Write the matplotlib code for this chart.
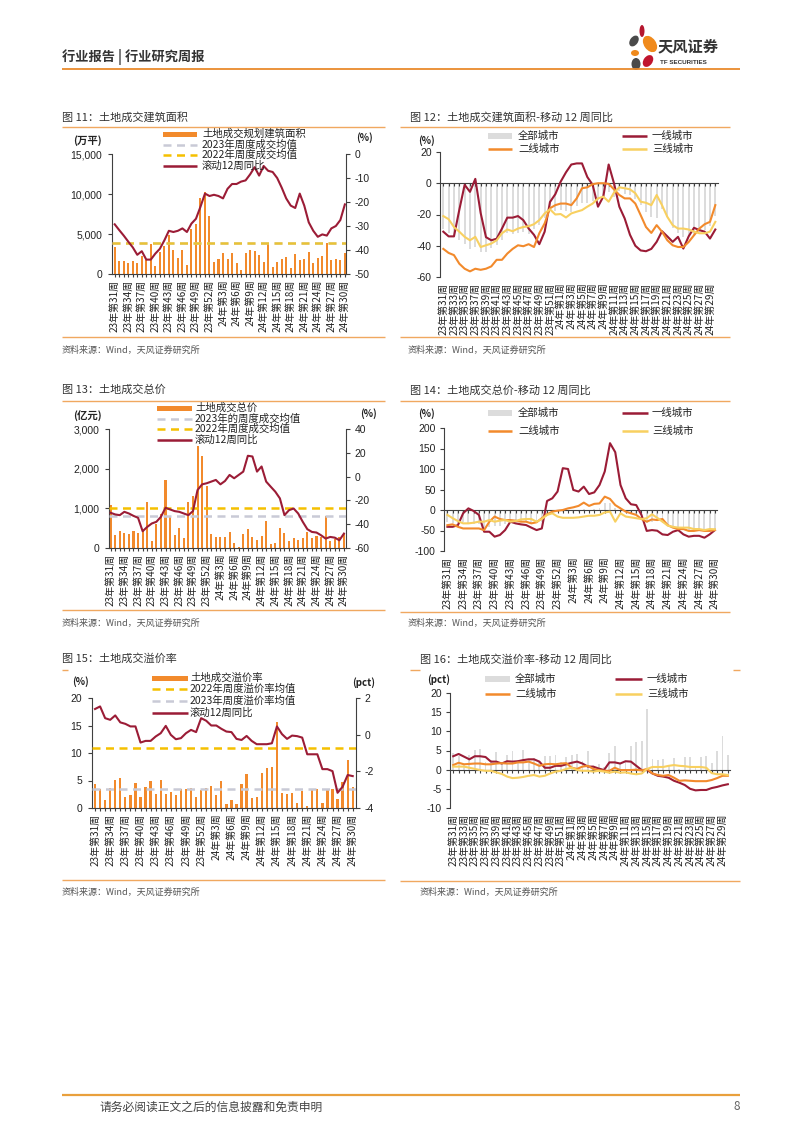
import matplotlib
matplotlib.use('Agg')
import matplotlib.pyplot as plt
from matplotlib.patches import Rectangle, Ellipse
import numpy as np

plt.rcParams['font.family'] = ['Liberation Sans', 'Noto Sans CJK SC', 'DejaVu Sans']
plt.rcParams['axes.unicode_minus'] = False
CJK = ['Noto Sans CJK SC', 'DejaVu Sans']

# ---------------- data ----------------
weeks_2023 = list(range(31, 53))
weeks_2024 = list(range(1, 31))
week_labels = [f"23年第{w}周" for w in weeks_2023] + [f"24年第{w}周" for w in weeks_2024]

# Fig 11: land transaction planned floor area (10k sqm) and rolling 12w yoy (%)
area_bar = [3400, 1650, 1650, 1400, 1650, 1400, 2300, 1800, 3800, 1000,
            2800, 3500, 4900, 3000, 2000, 3000, 1150, 5600, 6300, 9500,
            10300, 7200, 1500, 1900, 2600, 1900, 2600, 1400, 550, 2600,
            3000, 2900, 2400, 1500, 3800, 900, 1500, 1900, 2100, 800,
            2500, 1800, 1900, 2800, 1400, 2000, 2300, 3900, 1800, 1900,
            1800, 2600]
area_avg_2023 = 3850
area_avg_2022 = 3900
area_yoy = [-29.3, -31.7, -34, -36.5, -38.9, -42, -40.5, -44, -44, -41.5,
            -39.5, -36, -32, -32.5, -32, -31, -32.5, -29, -27, -22,
            -16.5, -17.5, -17, -17.5, -18.5, -14.5, -12.5, -12.5, -11.5, -11,
            -8.5, -5.5, -9, -5, -7, -7.5, -10, -14, -18.5, -21.5,
            -22.5, -16.5, -21.5, -28.5, -32, -34.5, -33.5, -34, -31, -30,
            -27.5, -21]

# Fig 12: floor area rolling 12w yoy by city tier (%)
area_all = area_yoy
area_t1 = [-31, -34, -34, -17, -1, -5.5, 2.8, -19, -34.5, -36.5,
           -35.5, -29, -22, -22, -21, -23.6, -29, -33, -39, -31,
           -12, -7, 1, 7, 12, 12.7, 12.7, 4, -1, -15,
           -8.5, 12, 0, -15, -22.5, -33, -40, -43, -43.5, -42,
           -37.5, -30.7, -34, -37.5, -34.3, -41.8, -34, -28.5, -30, -31,
           -35.4, -29.6]
area_t2 = [-42, -44.6, -46, -51.5, -54.7, -56.4, -54.7, -55.4, -54.7, -53.2,
           -49, -49, -45, -42, -39.7, -40.3, -39, -40.8, -32, -25.7,
           -16, -14, -13, -13, -14, -9.7, -3.2, -2.6, -0.6, 0,
           0, -0.4, -3.9, -7.5, -9.7, -9.7, -13, -20.4, -28, -31.8,
           -26.8, -31, -36.5, -39.7, -40.8, -40.8, -37.6, -33.3, -29, -26.2,
           -24.7, -14]
area_t3 = [-21, -23, -28, -31, -34.3, -36.5, -34.3, -40.8, -39.7, -38.6,
           -36.5, -32, -29.6, -30.7, -29, -28, -27.5, -26.2, -23.6, -19.3,
           -16.7, -20, -19.7, -21.9, -19.3, -18.2, -17.2, -15, -13, -9.7,
           -8.6, -11.8, -6, -2.6, -3.2, -3.9, -6.4, -11.8, -12.5, -14,
           -7.5, -14, -21.5, -26.8, -29, -29, -29.6, -31, -32, -32,
           -31, -24.7]

# Fig 13: total land transaction value (100m yuan) and rolling 12w yoy (%)
price_bar = [1080, 340, 420, 390, 360, 420, 390, 450, 1150, 170,
             600, 850, 1720, 780, 330, 500, 250, 1150, 1320, 2560,
             2330, 1570, 360, 270, 270, 280, 400, 120, 30, 360,
             480, 280, 200, 300, 680, 90, 120, 500, 380, 170,
             250, 200, 250, 400, 250, 300, 280, 800, 170, 220,
             280, 370]
price_avg_2023 = 810
price_avg_2022 = 1010
price_yoy = [-30.4, -31.8, -32.4, -29.6, -31, -33, -34.6, -45.9, -42.3, -39.4,
             -38, -33.8, -26.2, -27.6, -29, -29.6, -31, -32.4, -29, -11.3,
             -6.5, -5.6, -4.2, -2.8, -6.5, -3.7, 1.4, -1.4, 1.4, 4.2,
             17.5, 16.9, 4.2, 8.5, -4.2, -8.5, -12.7, -18.3, -32.4, -28.2,
             -26.8, -31, -38, -44.2, -46.5, -47, -49.3, -52.1, -50.7, -51.3,
             -53.5, -47.9]

# Fig 14: total value rolling 12w yoy by city tier (%)
price_all = price_yoy
price_t1 = [-41, -41, -37, -8, 4, -2.4, -12, -53, -53, -65,
            -61, -49, -28.5, -32.6, -35, -36.7, -43, -49, -45, 22,
            28.5, 45, 102, 100, 49, 45, 57, 39, 43, 61,
            94, 163, 141, 61, 28.5, 14, 12, -12, -51, -49,
            -50.5, -59.5, -61, -53, -49, -59.5, -65, -63, -63, -67.6,
            -59.5, -49]
price_t2 = [-37, -35, -41, -45, -45, -45, -45, -49, -28.5, -16,
            -22, -24.5, -24.5, -26, -28.5, -28.5, -32.6, -30, -20, -10.6,
            -4, -1.6, 0, 4, 6.5, 10, 18, 10, 15, 16,
            32.6, 27, 12, 4, -4, -8, -12, -22, -28.5, -23,
            -24.5, -22, -37, -43, -46.5, -46.5, -51, -51, -49, -51,
            -51, -49]
price_t3 = [-12, -20, -27, -32.6, -32.6, -31, -28.5, -28.5, -24.5, -28.5,
            -26, -24.5, -28.5, -27, -23, -22, -22, -28.5, -22, -12,
            -8, -16, -19, -19, -19, -18, -16, -14, -14, -12,
            -6, -4, -28.5, -8, -16, -18, -20, -22, -20, -10.6,
            -19, -28.5, -38, -41, -43, -43, -43, -46.5, -46.5, -49,
            -46.5, -47]

# Fig 15: land premium rate (%) and rolling 12w yoy (pct)
prem_bar = [4.3, 3.5, 1.4, 3.7, 5.1, 5.5, 2.0, 2.4, 4.5, 2.0,
            3.8, 4.9, 2.5, 5.1, 2.6, 3.0, 2.3, 3.5, 3.5, 3.7,
            2.0, 3.2, 3.7, 4.0, 2.3, 4.9, 0.8, 1.4, 0.8, 4.3,
            6.1, 1.8, 2.0, 6.3, 7.2, 7.5, 15.7, 2.8, 2.6, 2.8,
            1.0, 3.1, 0.3, 3.4, 3.4, 0.9, 3.4, 3.5, 1.7, 4.8,
            8.7, 3.8]
prem_avg_2022 = 11.0
prem_avg_2023 = 3.4
prem_yoy = [1.40, 1.54, 0.90, 0.81, 1.05, 0.67, 0.59, 0.45, 0.45, -0.43,
            -0.34, -0.34, -0.10, 0.08, 0.48, -0.01, -0.25, -0.19, 0.08, 0.26,
            0.14, 0.90, 0.76, 0.50, 0.50, 0.32, 0.17, 0.14, -0.23, -0.29,
            -0.07, -0.34, -0.52, -0.52, -0.52, -0.47, 0.45, 0.03, -0.23, -0.05,
            -0.08, -0.16, -1.07, -1.07, -1.07, -1.88, -1.88, -1.99, -3.17, -2.84,
            -2.20, -2.26]

# Fig 16: premium rate rolling 12w yoy by city tier (pct)
prem_all = prem_bar
prem_t1 = [3.5, 4.1, 3.4, 2.7, 3.5, 3.5, 3.3, 2.1, 2.1, 1.6,
           2.2, 2.1, 2.2, 2.5, 2.7, 2.7, 2.1, 0.5, 0.5, 1.0,
           1.0, 1.4, 1.8, 2.1, 1.6, 0.8, 0.8, 0.3, -0.1, 1.9,
           1.9, 1.6, 2.2, 2.1, 1.0, -0.1, -0.1, -1.0, -1.6, -1.8,
           -2.1, -2.9, -3.4, -4.0, -5.0, -5.4, -5.3, -5.3, -4.8, -4.5,
           -4.1, -3.8]
prem_t2 = [1.2, 1.8, 1.4, 1.5, 1.6, 1.6, 1.4, 1.4, 1.6, 1.7,
           1.6, 1.6, 1.9, 1.9, 2.1, 1.6, 1.0, 1.4, 1.5, 1.4,
           1.6, 1.7, 0.5, 0.2, 0.8, 1.0, 0.2, -0.1, -0.3, -0.3,
           0.5, -0.1, -0.1, -0.1, 0, -0.2, 0.2, -1.0, -1.4, -1.6,
           -1.4, -2.1, -2.9, -2.8, -2.9, -3.0, -3.0, -3.0, -2.7, -2.2,
           -1.6, -1.6]
prem_t3 = [0.8, 0.8, 0.8, 0.5, 0.2, -0.1, -0.3, -0.3, -0.7, -1.1,
           -1.8, -2.2, -2.1, -1.9, -1.6, -1.4, -1.8, -1.6, -1.0, -0.5,
           -0.3, 0.2, 0.5, -0.1, -0.3, -0.3, -0.5, -0.3, -0.5, -0.8,
           -0.5, -0.8, -0.7, -1.0, -1.2, -1.0, 0.2, 0.7, 0.7, 0.7,
           1.0, 1.2, 1.0, 0.9, 0.7, 0.7, 0.7, 0.5, -0.9, -1.2,
           -1.2, -1.4]

# ---------------- style ----------------
ORANGE = '#F28A2C'
DRED = '#9B1C36'
YEL = '#F5C000'
GRAYD = '#C9CAD6'
T3Y = '#F8D060'
GBAR = '#DCDCDC'
RULE = '#F0A860'
AX = '#404040'
TXT = '#222222'

W, H = 802, 1133
fig = plt.figure(figsize=(W / 100, H / 100), dpi=100)
fig.patch.set_facecolor('white')


def axes_px(x0, y0, x1, y1):
    return fig.add_axes([x0 / W, 1 - y1 / H, (x1 - x0) / W, (y1 - y0) / H])


ov = fig.add_axes([0, 0, 1, 1], zorder=10)
ov.set_xlim(0, W)
ov.set_ylim(H, 0)
ov.axis('off')

x = np.arange(len(week_labels))
LAB_SIZE = 7.2


def hline(x0, x1, y, color=RULE, lw=1.0):
    ov.plot([x0, x1], [y, y], color=color, lw=lw, solid_capstyle='butt')


def txt(xp, yp, s, size=7.5, color=TXT, ha='left', **kw):
    ov.text(xp, yp, s, fontsize=size, color=color, ha=ha, va='center', family=CJK, **kw)


def leg_patch(x0, x1, y, color, h=5):
    ov.add_patch(Rectangle((x0, y - h / 2), x1 - x0, h, color=color, lw=0))


def leg_line(x0, x1, y, color, ls='-', lw=1.8):
    ov.plot([x0, x1], [y, y], color=color, ls=ls, lw=lw, solid_capstyle='butt', dash_capstyle='butt')


DASH = (0, (3.2, 2.2))


def style_left(ax):
    for s in ['top', 'right']:
        ax.spines[s].set_visible(False)
    for s in ['left', 'bottom']:
        ax.spines[s].set_color(AX)
        ax.spines[s].set_linewidth(0.8)
    ax.tick_params(axis='y', labelsize=7.5, length=3, width=0.8, color=AX, pad=4, labelcolor=TXT)
    ax.set_facecolor('none')


def style_right(ax2):
    for s in ['top', 'left', 'bottom']:
        ax2.spines[s].set_visible(False)
    ax2.spines['right'].set_color(AX)
    ax2.spines['right'].set_linewidth(0.8)
    ax2.tick_params(axis='y', labelsize=7.5, length=3, width=0.8, color=AX, pad=3, labelcolor=TXT)


def cat_bottom(ax, step):
    ax.set_xticks(x)
    ax.set_xticklabels([lab if i % step == 0 else '' for i, lab in enumerate(week_labels)],
                       rotation=90, fontsize=LAB_SIZE, family=CJK, color=TXT)
    ax.tick_params(axis='x', length=2.5, width=0.8, color=AX, pad=1.5)


def cat_zero(ax, step):
    ax.spines['bottom'].set_position(('data', 0))
    ax.set_xticks(x)
    ax.tick_params(axis='x', length=2.5, width=0.8, color=AX, labelbottom=False)
    sec = ax.secondary_xaxis('bottom')
    sec.set_xticks(x[::step], labels=week_labels[::step], rotation=90, fontsize=LAB_SIZE,
                   family=CJK, color=TXT)
    sec.tick_params(length=0, pad=4)
    sec.spines['bottom'].set_visible(False)


def fmt_thousands(vals):
    return [f"{v:,}" for v in vals]


# ---------------- header / footer ----------------
txt(62, 57, '行业报告 | 行业研究周报', size=9.5, color='#333333', weight='bold')
hline(62, 740, 69, color='#E98A2C', lw=1.3)
# logo
for (cx, cy, w, h, ang, col) in [(642, 31, 5, 12, 0, '#B5162E'), (634, 41, 8, 12, 35, '#4A4A4A'),
                                  (650, 44, 12, 18, -35, '#F08A1C'), (635, 53, 8, 6, 0, '#F08A1C'),
                                  (648, 61, 9, 13, 35, '#C0142E'), (636, 64, 9, 12, 0, '#4A4A4A')]:
    ov.add_patch(Ellipse((cx, cy), w, h, angle=ang, color=col, lw=0))
txt(658, 46, '天风证券', size=11, color='#333333', weight='bold')
ov.text(660, 62, 'TF SECURITIES', fontsize=4.5, color='#333333', va='center', ha='left',
        family=['Liberation Sans'], weight='bold')
hline(62, 740, 1095, color='#E9A03C', lw=1.6)
txt(100, 1107, '请务必阅读正文之后的信息披露和免责申明', size=8.5, color='#444444')
txt(733, 1107, '8', size=8.5, color='#666666')

# ---------------- titles, rules, sources ----------------
titles = [(62, 117, '图 11：土地成交建筑面积'), (410, 117, '图 12：土地成交建筑面积-移动 12 周同比'),
          (62, 390, '图 13：土地成交总价'), (410, 390, '图 14：土地成交总价-移动 12 周同比'),
          (62, 659, '图 15：土地成交溢价率'), (420, 659, '图 16：土地成交溢价率-移动 12 周同比')]
for tx, ty, s in titles:
    txt(tx, ty, s, size=8, color='#333333')
hline(62, 385, 127)
hline(400, 730, 127)
hline(62, 385, 401)
hline(400, 730, 401)
hline(62, 68, 670)
hline(410, 420, 670)
hline(733, 740, 670)
hline(62, 385, 337)
hline(400, 730, 337)
hline(62, 385, 610)
hline(400, 730, 612)
hline(62, 385, 880)
hline(400, 740, 881)
for sx, sy in [(62, 350), (408, 350), (62, 623), (408, 623), (62, 892), (420, 892)]:
    txt(sx, sy, '资料来源：Wind，天风证券研究所', size=6.5, color='#555555')

# ---------------- Fig 11 ----------------
ax = axes_px(112, 154, 346, 274)
style_left(ax)
ax.bar(x, area_bar, width=0.45, color=ORANGE, zorder=2)
ax.axhline(area_avg_2023, color=GRAYD, ls=DASH, lw=1.8, zorder=3)
ax.axhline(area_avg_2022, color=YEL, ls=DASH, lw=1.8, zorder=3, alpha=0.75)
ax.set_xlim(-0.6, 51.25)
ax.set_ylim(0, 15000)
yt = [0, 5000, 10000, 15000]
ax.set_yticks(yt, fmt_thousands(yt))
cat_bottom(ax, 3)
ax2 = ax.twinx()
style_right(ax2)
ax2.plot(x, area_yoy, color=DRED, lw=1.5)
ax2.set_ylim(-50, 0)
ax2.set_yticks([-50, -40, -30, -20, -10, 0])
txt(73, 141, '(万平)', size=7.5, weight='bold')
txt(356, 138, '(%)', size=7, weight='bold')
leg_patch(163, 197, 134, ORANGE)
leg_line(163, 197, 145, GRAYD, ls=DASH)
leg_line(163, 197, 155, YEL, ls=DASH)
leg_line(163, 197, 166, DRED)
txt(202, 134, '土地成交规划建筑面积')
txt(202, 145, '2023年周度成交均值')
txt(202, 155, '2022年周度成交均值')
txt(202, 166, '滚动12周同比')

# ---------------- Fig 12 ----------------
ax = axes_px(440, 152, 718, 277)
for s in ['top', 'right']:
    ax.spines[s].set_visible(False)
ax.spines['left'].set_color(AX)
ax.spines['bottom'].set_color(AX)
ax.tick_params(axis='y', labelsize=7.5, length=3, width=0.8, color=AX, pad=3, labelcolor=TXT)
ax.bar(x, area_all, width=0.35, color=GBAR, zorder=1)
ax.plot(x, area_t1, color=DRED, lw=1.5, zorder=3)
ax.plot(x, area_t2, color=ORANGE, lw=1.5, zorder=3)
ax.plot(x, area_t3, color=T3Y, lw=1.5, zorder=3)
ax.set_xlim(-0.62, 51.5)
ax.set_ylim(-60, 20)
ax.set_yticks([-60, -40, -20, 0, 20])
cat_zero(ax, 2)
txt(418, 141, '(%)', size=7, weight='bold')
leg_patch(488, 512, 136, GBAR, h=6)
leg_line(622, 647, 136, DRED)
leg_line(488, 512, 149, ORANGE)
leg_line(622, 647, 149, T3Y)
txt(518, 136, '全部城市')
txt(652, 136, '一线城市')
txt(518, 149, '二线城市')
txt(652, 149, '三线城市')

# ---------------- Fig 13 ----------------
ax = axes_px(109, 429, 346, 548)
style_left(ax)
ax.bar(x, price_bar, width=0.45, color=ORANGE, zorder=2)
ax.axhline(price_avg_2023, color=GRAYD, ls=DASH, lw=1.8, zorder=3)
ax.axhline(price_avg_2022, color=YEL, ls=DASH, lw=1.8, zorder=3)
ax.set_xlim(-0.35, 51.45)
ax.set_ylim(0, 3000)
yt = [0, 1000, 2000, 3000]
ax.set_yticks(yt, fmt_thousands(yt))
cat_bottom(ax, 3)
ax2 = ax.twinx()
style_right(ax2)
ax2.plot(x, price_yoy, color=DRED, lw=1.5)
ax2.set_ylim(-60, 40)
ax2.set_yticks([-60, -40, -20, 0, 20, 40])
txt(73, 416, '(亿元)', size=7.5, weight='bold')
txt(360, 414, '(%)', size=7, weight='bold')
leg_patch(157, 192, 408, ORANGE)
leg_line(157, 192, 419, GRAYD, ls=DASH)
leg_line(157, 192, 429, YEL, ls=DASH)
leg_line(157, 192, 440, DRED)
txt(195, 408, '土地成交总价')
txt(195, 419, '2023年的周度成交均值')
txt(195, 429, '2022年周度成交均值')
txt(195, 440, '滚动12周同比')

# ---------------- Fig 14 ----------------
ax = axes_px(444, 428, 717, 551)
for s in ['top', 'right']:
    ax.spines[s].set_visible(False)
ax.spines['left'].set_color(AX)
ax.spines['bottom'].set_color(AX)
ax.tick_params(axis='y', labelsize=7.5, length=3, width=0.8, color=AX, pad=3, labelcolor=TXT)
ax.bar(x, price_all, width=0.35, color=GBAR, zorder=1)
ax.plot(x, price_t1, color=DRED, lw=1.5, zorder=3)
ax.plot(x, price_t2, color=ORANGE, lw=1.5, zorder=3)
ax.plot(x, price_t3, color=T3Y, lw=1.5, zorder=3)
ax.set_xlim(-0.65, 51.4)
ax.set_ylim(-100, 200)
ax.set_yticks([-100, -50, 0, 50, 100, 150, 200])
cat_zero(ax, 3)
txt(418, 414, '(%)', size=7, weight='bold')
leg_patch(488, 512, 413, GBAR, h=6)
leg_line(622, 648, 413, DRED)
leg_line(488, 512, 431, ORANGE)
leg_line(622, 648, 431, T3Y)
txt(518, 413, '全部城市')
txt(652, 413, '一线城市')
txt(518, 431, '二线城市')
txt(652, 431, '三线城市')

# ---------------- Fig 15 ----------------
ax = axes_px(92, 698, 356, 808)
style_left(ax)
ax.bar(x, prem_bar, width=0.45, color=ORANGE, zorder=2)
ax.axhline(prem_avg_2022, color=YEL, ls=DASH, lw=1.8, zorder=3)
ax.axhline(prem_avg_2023, color=GRAYD, ls=DASH, lw=1.8, zorder=3)
ax.set_xlim(-0.6, 51.65)
ax.set_ylim(0, 20)
ax.set_yticks([0, 5, 10, 15, 20])
cat_bottom(ax, 3)
ax2 = ax.twinx()
style_right(ax2)
ax2.plot(x, prem_yoy, color=DRED, lw=1.5)
ax2.set_ylim(-4, 2)
ax2.set_yticks([-4, -2, 0, 2])
txt(72, 682, '(%)', size=7, weight='bold')
txt(352, 683, '(pct)', size=7, weight='bold')
leg_patch(152, 188, 678, ORANGE)
leg_line(152, 188, 689, YEL, ls=DASH)
leg_line(152, 188, 701, GRAYD, ls=DASH)
leg_line(152, 188, 713, DRED)
txt(190, 678, '土地成交溢价率')
txt(190, 689, '2022年周度溢价率均值')
txt(190, 701, '2023年周度溢价率均值')
txt(190, 713, '滚动12周同比')

# ---------------- Fig 16 ----------------
ax = axes_px(450, 693, 730, 808)
for s in ['top', 'right']:
    ax.spines[s].set_visible(False)
ax.spines['left'].set_color(AX)
ax.spines['bottom'].set_color(AX)
ax.tick_params(axis='y', labelsize=7.5, length=3, width=0.8, color=AX, pad=3, labelcolor=TXT)
ax.bar(x, prem_all, width=0.35, color=GBAR, zorder=1)
ax.plot(x, prem_t1, color=DRED, lw=1.5, zorder=3)
ax.plot(x, prem_t2, color=ORANGE, lw=1.5, zorder=3)
ax.plot(x, prem_t3, color=T3Y, lw=1.5, zorder=3)
ax.set_xlim(-0.6, 51.4)
ax.set_ylim(-10, 20)
ax.set_yticks([-10, -5, 0, 5, 10, 15, 20])
cat_zero(ax, 2)
txt(427, 680, '(pct)', size=7, weight='bold')
leg_patch(485, 510, 679, GBAR, h=6)
leg_line(615, 642, 679, DRED)
leg_line(485, 510, 694, ORANGE)
leg_line(615, 642, 694, T3Y)
txt(515, 679, '全部城市')
txt(647, 679, '一线城市')
txt(515, 694, '二线城市')
txt(647, 694, '三线城市')

fig.savefig('out.png', dpi=100, facecolor='white')
